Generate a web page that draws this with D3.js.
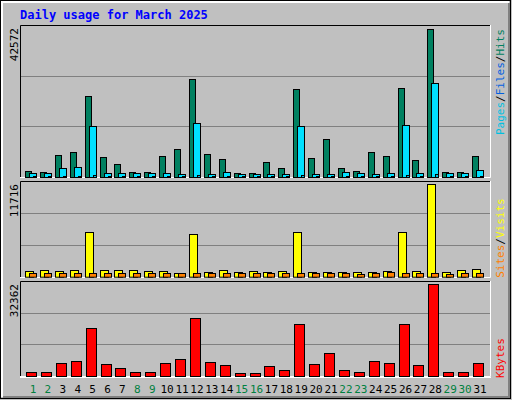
<!DOCTYPE html><html><head><meta charset="utf-8">
<script src="https://cdn.jsdelivr.net/npm/d3@7"></script>
<style>body{margin:0;background:#fff}</style></head><body>
<svg id="c" width="512" height="400"></svg>
<script>
const days=d3.range(1,32);
const weekend=[1,2,8,9,15,16,22,23,29,30];
const hits=[1830,1541,6452,7319,23209,5874,3852,1541,1541,6163,8186,28120,6741,5297,1252,1252,4430,2696,25231,5585,11075,2696,1830,7319,6163,25520,5008,42572,1541,1541,6163];
const files=[1252,1252,2696,2985,14830,1252,1252,1252,1252,1252,963,15697,963,1541,963,963,963,963,14830,963,963,1541,1252,963,1252,15119,1252,26964,1252,1252,2119];
const pages=[300,300,400,400,600,300,300,300,300,300,300,600,300,300,300,300,300,300,600,300,300,300,300,300,300,600,300,900,300,300,300];
const visits=[719,846,719,846,5626,846,846,846,719,719,465,5372,592,846,592,719,592,719,5626,592,592,592,592,592,719,5626,719,11716,592,846,973];
const sites=[423,423,423,423,423,423,423,423,423,423,465,423,423,423,423,423,423,423,423,423,423,423,338,423,592,423,423,423,338,423,423];
const kbytes=[1295,1295,4590,5296,16950,4237,2825,1295,1295,4590,6003,20480,4943,3884,1059,1059,3531,2119,18361,4237,8121,2119,1295,5296,4590,18361,3884,32362,1295,1295,4590];
const svg=d3.select("#c");
const F="DejaVu Sans Mono, monospace";
svg.append("rect").attr("x",0).attr("y",0).attr("width",512).attr("height",400).attr("fill","#c0c0c0");
svg.append("rect").attr("x",0.5).attr("y",0.5).attr("width",510).attr("height",398).attr("fill","none").attr("stroke","#000");
svg.append("path").attr("d","M2,397V2H509").attr("stroke","#fff").attr("stroke-width",2).attr("fill","none");
svg.append("path").attr("d","M3,397H509V3").attr("stroke","#808080").attr("stroke-width",2).attr("fill","none");
svg.append("text").attr("x",20).attr("y",19).attr("fill","#0000ff").attr("font-family",F).attr("font-weight","bold").attr("font-size",12).text("Daily usage for March 2025");
const x=d3.scaleLinear().domain([1,31]).range([25,472]);
function panel(top,bot,max,base,maxY){
  svg.append("rect").attr("x",20).attr("y",top).attr("width",471).attr("height",bot-top).attr("fill","#c0c0c0");
  const y=d3.scaleLinear().domain([0,max]).range([base,maxY]);
  const step=(base-top)/3;
  [1,2].forEach(i=>svg.append("line").attr("x1",21).attr("x2",490).attr("y1",Math.round(base-step*i)+0.5).attr("y2",Math.round(base-step*i)+0.5).attr("stroke","#808080"));
  svg.append("path").attr("d",`M20.5,${bot}V${top+0.5}H491`).attr("stroke","#000").attr("fill","none");
  svg.append("path").attr("d",`M20,${bot-0.5}H490.5V${top}`).attr("stroke","#fff").attr("fill","none");
  svg.append("text").attr("transform",`translate(${18},${top+3}) rotate(-90)`).attr("text-anchor","end").attr("font-family",F).attr("font-size",11).attr("fill","#000").text(max);
  return y;
}
function bars(data,y,base,dx,w,color){
  svg.append("g").selectAll("rect").data(data).join("rect")
   .attr("x",(d,i)=>Math.round(x(days[i]))+dx+0.5).attr("y",d=>Math.round(y(d))+0.5)
   .attr("width",w).attr("height",d=>Math.max(0,base-Math.round(y(d))))
   .attr("fill",color).attr("stroke","#000");
}
const y1=panel(25,178,42572,177,29.3);
bars(hits,y1,177,0,6,"#008060");
bars(files,y1,177,4,7,"#00e0ff");
bars(pages,y1,177,8,3,"#00c0e0");
const y2=panel(181,278,11716,276.7,184.3);
bars(visits,y2,276.7,0,8,"#ffff00");
bars(sites,y2,276.7,4,7,"#ff8000");
const y3=panel(281,377,32362,376,284.3);
bars(kbytes,y3,376,1,10,"#ff0000");
svg.append("line").attr("x1",20).attr("x2",491).attr("y1",377.5).attr("y2",377.5).attr("stroke","#fff");
svg.append("g").selectAll("text").data(days).join("text").attr("x",d=>x(d)+8).attr("y",393)
 .attr("text-anchor","middle").attr("font-family",F).attr("font-size",11)
 .attr("fill",d=>weekend.includes(d)?"#008040":"#000").text(d=>d);
function rlabel(cy,parts){
  const t=svg.append("text").attr("transform",`translate(504,${cy}) rotate(-90)`).attr("font-family",F).attr("font-size",11).attr("text-anchor","middle");
  parts.forEach(p=>t.append("tspan").attr("fill",p[1]).text(p[0]));
}
rlabel(82,[["Pages","#00c0e0"],["/","#000"],["Files","#0060e0"],["/","#000"],["Hits","#008060"]]);
rlabel(238,[["Sites","#ff8000"],["/","#000"],["Visits","#ffff00"]]);
rlabel(358,[["KBytes","#ff0000"]]);
</script></body></html>
